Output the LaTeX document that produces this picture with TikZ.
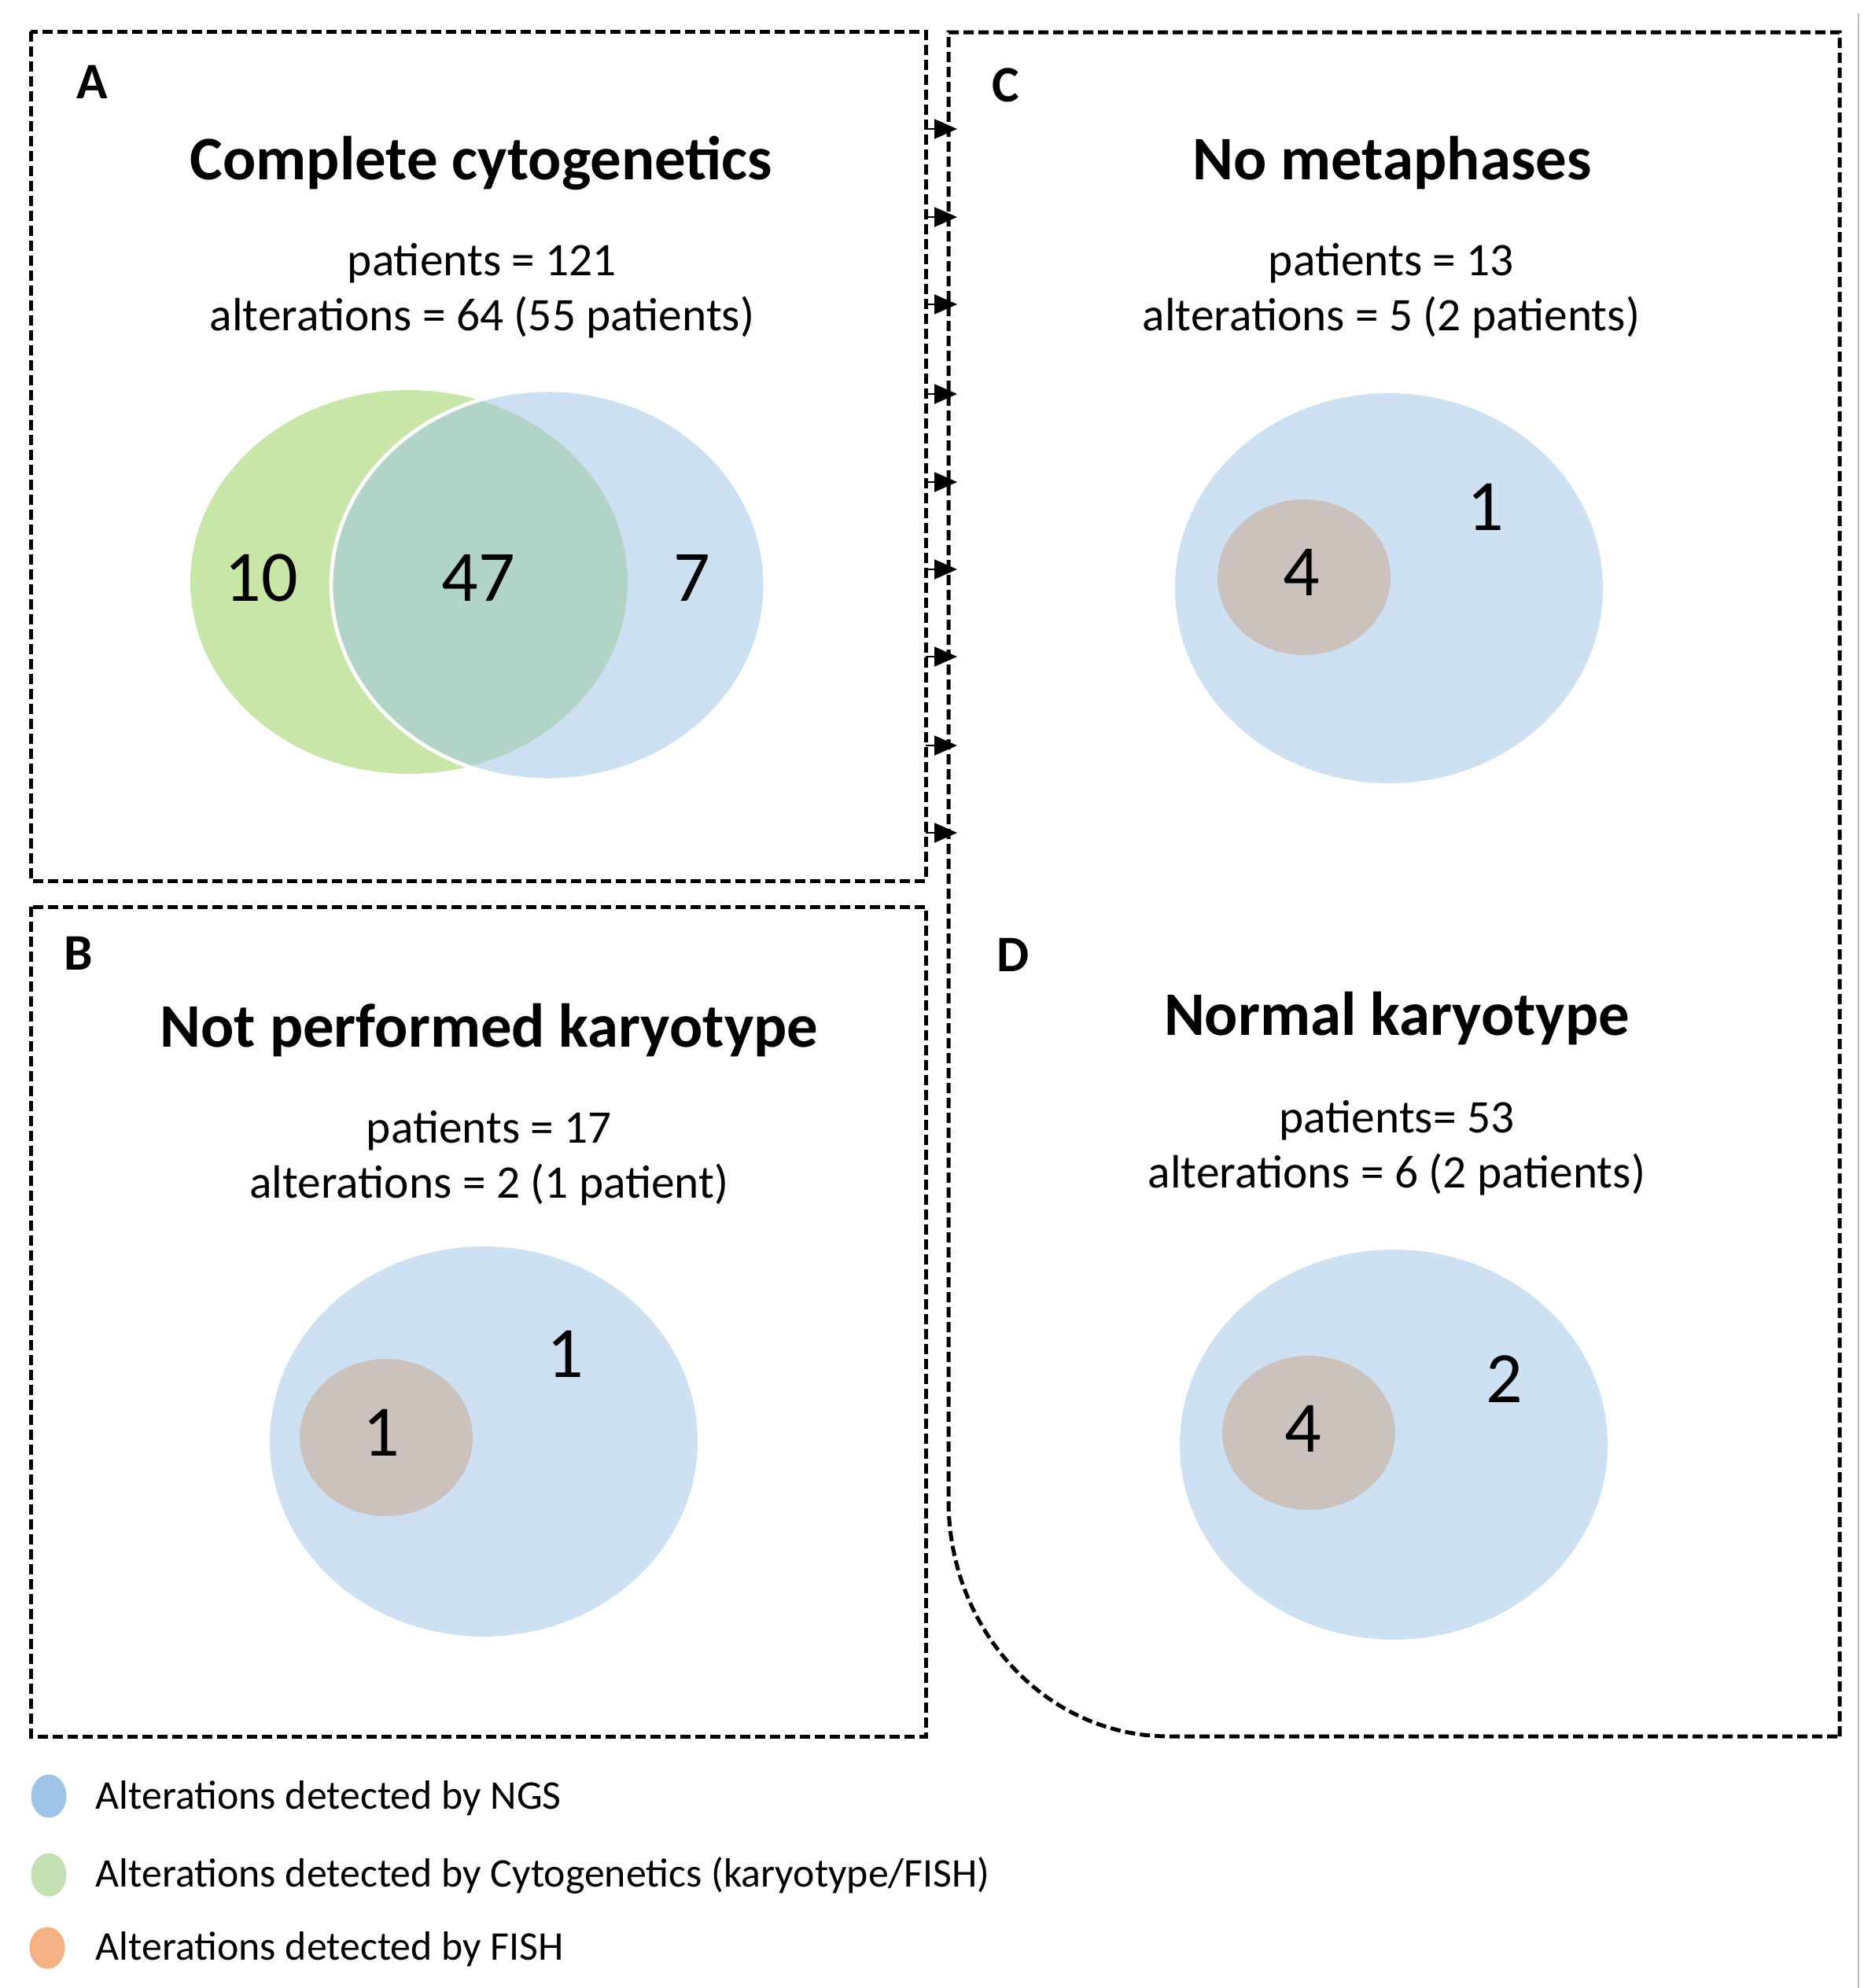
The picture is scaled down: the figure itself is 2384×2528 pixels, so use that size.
\documentclass[tikz,border=0pt]{standalone}
\usepackage{fontspec}
\setmainfont{Carlito}
\usetikzlibrary{arrows.meta}
\definecolor{venngreen}{HTML}{C8E6A8}
\definecolor{ngsblue}{HTML}{9DC3E6}
\definecolor{blueflat}{HTML}{CEE1F3}
\definecolor{fishfill}{HTML}{CBC1BD}
\definecolor{leggreen}{HTML}{C5E0B4}
\definecolor{legorange}{HTML}{F4B183}
\definecolor{edgegray}{HTML}{BEBEBE}
\begin{document}
\begin{tikzpicture}[x=0.25pt,y=-0.25pt,
  panelbox/.style={draw=black, line width=1.25pt, dash pattern=on 3.25pt off 1.5pt},
  paneltag/.style={font=\fontsize{16.3}{18}\selectfont\bfseries, anchor=base west, inner sep=0pt},
  paneltitle/.style={font=\fontsize{19.7}{22}\selectfont\bfseries, anchor=base, inner sep=0pt},
  stat/.style={font=\fontsize{14.85}{17}\selectfont, anchor=base, inner sep=0pt},
  count/.style={font=\fontsize{23}{26}\selectfont, inner sep=0pt},
  legtext/.style={font=\fontsize{12.95}{15}\selectfont, anchor=base west, inner sep=0pt},
  arr/.style={line width=0.5pt, -{Triangle[length=7.25pt,width=6.25pt]}},
  flatblue/.style={fill=blueflat},
  fish/.style={fill=fishfill},
]
\useasboundingbox (0,0) rectangle (2384,2528);
\fill[white] (0,0) rectangle (2384,2528);

% thin gray edge line
\draw[edgegray, line width=0.5pt] (2363,17) -- (2363,2528);

% panel frames
\draw[panelbox] (39,40) rectangle (1177,1120);
\draw[panelbox] (39,1153) rectangle (1177,2208);
\draw[panelbox] (2339,2208) -- (2339,41) -- (1206,41) -- (1206,1908)
  .. controls (1206,2074) and (1331,2208) .. (1486,2208) -- cycle;

% arrows from A to C
\foreach \i/\yy in {1/164,2/276,3/387,4/501,5/613,6/724,7/835,8/948,9/1059}{
  \coordinate (fromA\i) at (1177,\yy);
  \coordinate (toC\i) at (1217,\yy);
  \draw[arr] (fromA\i) -- (toC\i);
}

% ---------- Panel A ----------
\node[paneltag] (tagA) at (97,125) {A};
\node[paneltitle] (titleA) at (612,228) {Complete cytogenetics};
\node[stat] (patA) at (613,350) {patients = 121};
\node[stat] (altA) at (613,420) {alterations = 64 (55 patients)};
\fill[venngreen] (520,740) ellipse [x radius=278, y radius=244];
\filldraw[fill=ngsblue, fill opacity=0.5, draw=white, line width=1.2pt] (697,744) ellipse [x radius=276, y radius=248];
\node[count] (a10) at (332,735) {10};
\node[count] (a47) at (608,735) {47};
\node[count] (a7) at (880,735) {7};

% ---------- Panel B ----------
\node[paneltag] (tagB) at (81,1233) {B};
\node[paneltitle] (titleB) at (622,1331) {Not performed karyotype};
\node[stat] (patB) at (622,1453) {patients = 17};
\node[stat] (altB) at (622,1523) {alterations = 2 (1 patient)};
\fill[flatblue] (615,1833) ellipse [x radius=272, y radius=248];
\fill[fish] (491,1828) ellipse [x radius=110, y radius=100];
\node[count] (b1in) at (485,1822) {1};
\node[count] (b1out) at (719,1722) {1};

% ---------- Panel C ----------
\node[paneltag] (tagC) at (1261,129) {C};
\node[paneltitle] (titleC) at (1770,228) {No metaphases};
\node[stat] (patC) at (1769,350) {patients = 13};
\node[stat] (altC) at (1769,420) {alterations = 5 (2 patients)};
\fill[flatblue] (1766,748) ellipse [x radius=272, y radius=248];
\fill[fish] (1658,734) ellipse [x radius=110, y radius=99];
\node[count] (c4) at (1655,728) {4};
\node[count] (c1) at (1889,645) {1};

% ---------- Panel D ----------
\node[paneltag] (tagD) at (1267,1235) {D};
\node[paneltitle] (titleD) at (1776,1316) {Normal karyotype};
\node[stat] (patD) at (1776,1440) {patients= 53};
\node[stat] (altD) at (1776,1510) {alterations = 6 (2 patients)};
\fill[flatblue] (1772,1837) ellipse [x radius=272, y radius=248];
\fill[fish] (1664,1822) ellipse [x radius=110, y radius=98];
\node[count] (d4) at (1657,1817) {4};
\node[count] (d2) at (1913,1754) {2};

% ---------- Legend ----------
\fill[ngsblue] (62,2284) ellipse [x radius=22.5, y radius=27.5];
\fill[leggreen] (62,2384) ellipse [x radius=22.5, y radius=27.5];
\fill[legorange] (60,2477) ellipse [x radius=22.5, y radius=26.5];
\node[legtext] (legNGS) at (121,2300) {Alterations detected by NGS};
\node[legtext] (legCyto) at (121,2399) {Alterations detected by Cytogenetics (karyotype/FISH)};
\node[legtext] (legFISH) at (121,2492) {Alterations detected by FISH};
\end{tikzpicture}
\end{document}
